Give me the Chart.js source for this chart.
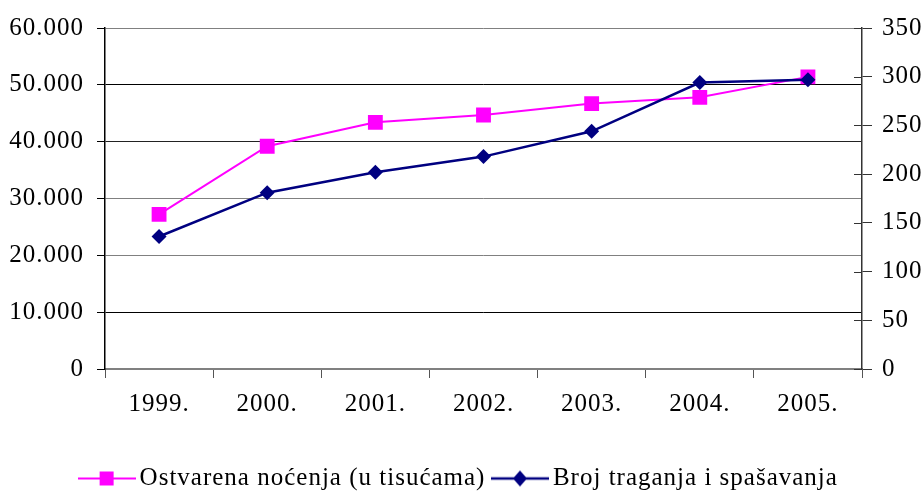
<!DOCTYPE html>
<html><head><meta charset="utf-8">
<script src="https://cdn.jsdelivr.net/npm/chart.js@4/dist/chart.umd.min.js"></script>
<style>html,body{margin:0;padding:0;background:#fff}</style>
</head><body>
<canvas id="c" width="924" height="494"></canvas>
<script>
const categories = ['1999.', '2000.', '2001.', '2002.', '2003.', '2004.', '2005.'];
const nocenja = [27200, 39200, 43400, 44700, 46700, 47800, 51400];
const traganja = [136, 181, 202, 218, 244, 294, 297];
const seriesNames = ['Ostvarena noćenja (u tisućama)', 'Broj traganja i spašavanja'];
const leftMax = 60000, leftStep = 10000;
const rightMax = 350, rightStep = 50;

const PINK = '#FF00FF', NAVY = '#000080';
const FONT = {family: "'Liberation Serif', 'Times New Roman', serif", size: 25};

function legendIcon(color, shape) {
  const cv = document.createElement('canvas');
  cv.width = 58; cv.height = 20;
  const g = cv.getContext('2d');
  g.strokeStyle = color; g.lineWidth = shape === 'sq' ? 2 : 2.5;
  g.beginPath(); g.moveTo(0, 10); g.lineTo(58, 10); g.stroke();
  g.fillStyle = color;
  if (shape === 'sq') { g.fillRect(22, 3, 14, 14); }
  else { g.beginPath(); g.moveTo(29, 2); g.lineTo(36, 10); g.lineTo(29, 18); g.lineTo(22, 10); g.closePath(); g.fill(); }
  return cv;
}
const icons = [legendIcon(PINK, 'sq'), legendIcon(NAVY, 'dm')];

const gridColors = {0: 'rgba(0,0,0,0)', 10000: '#000000', 20000: '#808080', 30000: '#808080', 40000: '#222222', 50000: '#000000', 60000: '#808080'};

const spacingPlugin = {
  id: 'spacing',
  beforeInit(chart) { chart.ctx.letterSpacing = '1px'; },
  beforeUpdate(chart) { chart.ctx.letterSpacing = '1px'; },
  beforeDraw(chart) { chart.ctx.letterSpacing = '1px'; }
};

const innerTicks = {
  id: 'innerTicks',
  afterDraw(chart) {
    const s = chart.scales.y1, ctx = chart.ctx;
    ctx.save();
    ctx.strokeStyle = '#333'; ctx.lineWidth = 1;
    s.ticks.forEach((t, i) => {
      const y = Math.round(s.getPixelForTick(i)) + 0.5;
      ctx.beginPath(); ctx.moveTo(s.left - 8, y); ctx.lineTo(s.left, y); ctx.stroke();
    });
    ctx.restore();
  }
};

new Chart(document.getElementById('c'), {
  type: 'line',
  data: {
    labels: categories,
    datasets: [
      {label: seriesNames[0], data: nocenja, yAxisID: 'y', order: 1,
       borderColor: PINK, backgroundColor: PINK, borderWidth: 2,
       pointStyle: 'rect', pointRadius: 10.5, pointHoverRadius: 10.5, pointBorderWidth: 0, tension: 0},
      {label: seriesNames[1], data: traganja, yAxisID: 'y1', order: 0,
       borderColor: NAVY, backgroundColor: NAVY, borderWidth: 2.5,
       pointStyle: 'rectRot', pointRadius: 7.5, pointHoverRadius: 7.5, pointBorderWidth: 0, tension: 0}
    ]
  },
  plugins: [spacingPlugin, innerTicks],
  options: {
    responsive: false,
    animation: false,
    layout: {padding: {top: 26, left: 0, right: 0, bottom: -7}},
    plugins: {
      tooltip: {enabled: false},
      legend: {
        position: 'bottom',
        labels: {
          usePointStyle: true,
          pointStyleWidth: 41,
          padding: 14,
          color: '#000',
          font: FONT,
          sort: (a, b) => a.datasetIndex - b.datasetIndex,
          generateLabels: (chart) => chart.data.datasets.map((ds, i) => ({
            text: ds.label, pointStyle: icons[i], fillStyle: ds.borderColor,
            strokeStyle: ds.borderColor, lineWidth: 0, hidden: false, datasetIndex: i, fontColor: '#000'
          }))
        }
      }
    },
    scales: {
      x: {
        offset: true,
        grid: {display: true, drawOnChartArea: false, offset: true, tickLength: 9, color: '#555', tickWidth: 1},
        border: {color: '#808080', width: 2},
        ticks: {color: '#000', font: FONT, padding: 11, maxRotation: 0},
        afterFit: (s) => { s.height = 83; }
      },
      y: {
        position: 'left', min: 0, max: leftMax,
        ticks: {stepSize: leftStep, color: '#000', font: FONT, padding: 13,
          callback: (v) => v === 0 ? '0' : String(v).replace(/\B(?=(\d{3})+(?!\d))/g, '.')},
        grid: {color: (ctx) => gridColors[ctx.tick.value] || '#000', tickColor: '#000', tickLength: 8, lineWidth: 1},
        border: {color: '#000', width: 1.5},
        afterFit: (s) => { s.width = 105; }
      },
      y1: {
        position: 'right', min: 0, max: rightMax,
        ticks: {stepSize: rightStep, color: '#000', font: FONT, padding: 10},
        grid: {drawOnChartArea: false, tickLength: 10, color: '#333'},
        border: {color: '#333', width: 1.5},
        afterFit: (s) => { s.width = 62; }
      }
    }
  }
});
</script>
</body></html>
